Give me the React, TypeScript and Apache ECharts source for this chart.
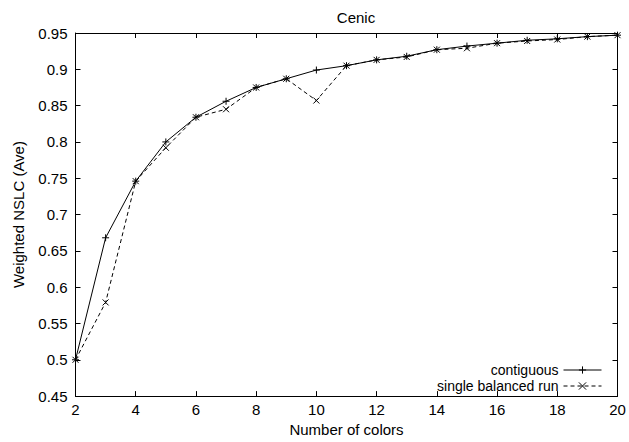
import React, { useEffect, useRef } from 'react';
import * as echarts from 'echarts';

const numColors = [2, 3, 4, 5, 6, 7, 8, 9, 10, 11, 12, 13, 14, 15, 16, 17, 18, 19, 20];
const contiguous = [0.500, 0.668, 0.746, 0.800, 0.834, 0.856, 0.875, 0.887, 0.899, 0.905, 0.913, 0.918, 0.927, 0.932, 0.936, 0.940, 0.942, 0.945, 0.947];
const singleBalanced = [0.500, 0.579, 0.746, 0.792, 0.834, 0.845, 0.875, 0.887, 0.857, 0.905, 0.913, 0.917, 0.927, 0.929, 0.936, 0.939, 0.941, 0.945, 0.947];
const seriesNames = ['contiguous', 'single balanced run'];

const FONT = '"Liberation Sans", Arial, Helvetica, sans-serif';
const PLUS = 'path://M0,5L10,5M5,0L5,10';
const CROSS = 'path://M0,0L10,10M10,0L0,10';

export default function App() {
  const ref = useRef<HTMLDivElement>(null);
  useEffect(() => {
    const chart = echarts.init(ref.current!, null, { renderer: 'svg' });
    const tickStyle = { show: true, inside: true, length: 5, lineStyle: { color: '#000', width: 1 } };
    const axisLine = { show: true, lineStyle: { color: '#000', width: 1 } };
    const labelStyle = { color: '#000', fontSize: 15, fontFamily: FONT };
    chart.setOption({
      animation: false,
      backgroundColor: '#fff',
      title: {
        text: 'Cenic',
        left: 351,
        textAlign: 'center',
        top: 5,
        textStyle: { color: '#000', fontSize: 15, fontWeight: 'normal', fontFamily: FONT },
      },
      grid: { left: 75.5, right: 11.5, top: 33, bottom: 39.5, show: false },
      legend: {
        orient: 'vertical',
        right: 27,
        top: 363,
        padding: 0,
        align: 'right',
        itemWidth: 38,
        itemHeight: 9,
        itemGap: 2,
        data: seriesNames,
        lineStyle: { width: 1 },
        itemStyle: { borderWidth: 1 },
        textStyle: { color: '#000', fontSize: 14, fontFamily: FONT },
      },
      xAxis: [
        {
          type: 'value', min: 2, max: 20, interval: 2, position: 'bottom',
          axisLine, axisTick: tickStyle, splitLine: { show: false },
          axisLabel: { ...labelStyle, margin: 6 },
          name: 'Number of colors', nameLocation: 'middle', nameGap: 23,
          nameTextStyle: labelStyle,
        },
        {
          type: 'value', min: 2, max: 20, interval: 2, position: 'top',
          axisLine, axisTick: tickStyle, splitLine: { show: false },
          axisLabel: { show: false },
        },
      ],
      yAxis: [
        {
          type: 'value', min: 0.45, max: 0.95, interval: 0.05, position: 'left',
          axisLine, axisTick: tickStyle, splitLine: { show: false },
          axisLabel: { ...labelStyle, margin: 8 },
          name: 'Weighted NSLC (Ave)', nameLocation: 'middle', nameGap: 50,
          nameTextStyle: labelStyle,
        },
        {
          type: 'value', min: 0.45, max: 0.95, interval: 0.05, position: 'right',
          axisLine, axisTick: tickStyle, splitLine: { show: false },
          axisLabel: { show: false },
        },
      ],
      series: [
        {
          name: seriesNames[0],
          type: 'line',
          data: numColors.map((x, i) => [x, contiguous[i]]),
          symbol: PLUS,
          symbolSize: 7,
          showAllSymbol: true,
          lineStyle: { color: '#000', width: 1, type: 'solid' },
          itemStyle: { color: '#000', borderColor: '#000', borderWidth: 1 },
          z: 3,
        },
        {
          name: seriesNames[1],
          type: 'line',
          data: numColors.map((x, i) => [x, singleBalanced[i]]),
          symbol: CROSS,
          symbolSize: 6,
          showAllSymbol: true,
          lineStyle: { color: '#000', width: 1, type: [4, 3] },
          itemStyle: { color: '#000', borderColor: '#000', borderWidth: 1 },
          z: 2,
        },
      ],
    });
    return () => chart.dispose();
  }, []);
  return <div ref={ref} style={{ position: 'fixed', left: 0, top: 0, width: 629, height: 442 }} />;
}
